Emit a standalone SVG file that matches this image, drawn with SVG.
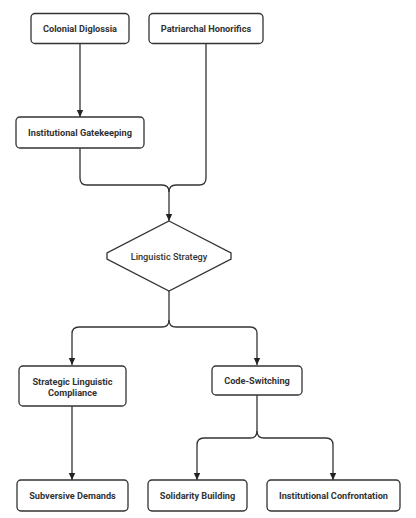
<svg xmlns="http://www.w3.org/2000/svg" width="416" height="518" viewBox="0 0 416 518">
<style>
.n rect,.n path{fill:#fff;stroke:#333;stroke-width:1.3}
.n text{font-family:Roboto,"Liberation Sans",sans-serif;font-size:9.2px;font-weight:700;fill:#333;text-anchor:middle;dominant-baseline:central}
.n text.r{font-weight:500}
.c path{fill:none;stroke:#333;stroke-width:1.3}
</style>
<defs>
<marker id="ah" markerUnits="userSpaceOnUse" markerWidth="8" markerHeight="8" refX="7" refY="4" orient="auto">
<path d="M0,0.8 L7,4 L0,7.2 Z" fill="#222"/>
</marker>
</defs>
<rect width="416" height="518" fill="#fff"/>
<g class="c" id="connectors">
<path d="M80,44 V117" marker-end="url(#ah)"/>
<path d="M80,148 V178 Q80,185 87,185 H162 Q169,185 169,192 V221" marker-end="url(#ah)"/>
<path d="M206,44 V178 Q206,185 199,185 H176 Q169,185 169,192"/>
<path d="M169,291 V320 Q169,327 162,327 H79 Q72,327 72,334 V365" marker-end="url(#ah)"/>
<path d="M169,320 Q169,327 176,327 H250 Q257,327 257,334 V365" marker-end="url(#ah)"/>
<path d="M72,406 V480" marker-end="url(#ah)"/>
<path d="M257,395 V431 Q257,438 250,438 H204 Q197,438 197,445 V480" marker-end="url(#ah)"/>
<path d="M257,431 Q257,438 264,438 H326 Q333,438 333,445 V480" marker-end="url(#ah)"/>
</g>
<g class="n" id="colonial-diglossia"><rect x="31" y="13.5" width="98" height="30" rx="4"/><text x="80" y="28.5">Colonial Diglossia</text></g>
<g class="n" id="patriarchal-honorifics"><rect x="149" y="13.5" width="114" height="30" rx="4"/><text x="206" y="28.5">Patriarchal Honorifics</text></g>
<g class="n" id="institutional-gatekeeping"><rect x="16" y="117" width="128" height="31" rx="4"/><text x="80" y="132.5">Institutional Gatekeeping</text></g>
<g class="n" id="linguistic-strategy"><path d="M169,221 L231,253 V259 L169,291 L107,259 V253 Z"/><text class="r" x="169" y="256">Linguistic Strategy</text></g>
<g class="n" id="strategic-compliance"><rect x="19" y="366" width="107" height="40" rx="4"/><text x="72.5" y="381">Strategic Linguistic</text><text x="72.5" y="392">Compliance</text></g>
<g class="n" id="code-switching"><rect x="212" y="366" width="90" height="29" rx="4"/><text x="257" y="380.5">Code-Switching</text></g>
<g class="n" id="subversive-demands"><rect x="17" y="480" width="111" height="31" rx="4"/><text x="72.5" y="495.5">Subversive Demands</text></g>
<g class="n" id="solidarity-building"><rect x="148" y="480" width="99" height="31" rx="4"/><text x="197.5" y="495.5">Solidarity Building</text></g>
<g class="n" id="institutional-confrontation"><rect x="267" y="480" width="133" height="31" rx="4"/><text x="333.5" y="495.5">Institutional Confrontation</text></g>
</svg>
